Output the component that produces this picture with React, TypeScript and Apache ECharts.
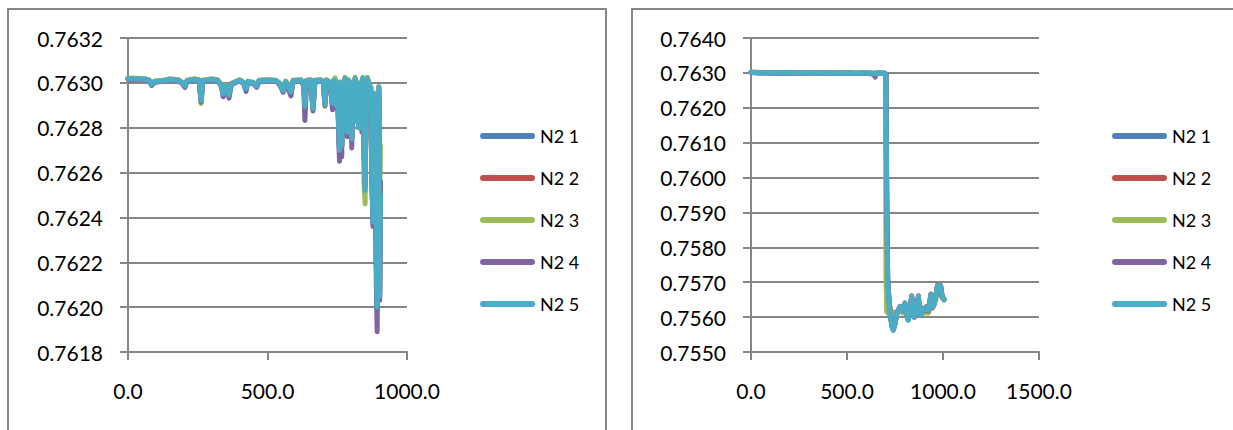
import React, { useEffect, useRef } from "react";
import * as echarts from "echarts";

const seriesNames = ["N2 1", "N2 2", "N2 3", "N2 4", "N2 5"];
const seriesColors = ["#4F81BD", "#C0504D", "#9BBB59", "#8064A2", "#4BACC6"];

// ---------- Left chart ----------
const leftXTicks = { min: 0, max: 1000, interval: 500 };
const leftYTicks = { min: 0.7618, max: 0.7632, interval: 0.0002 };

const leftX = [
  0, 30, 60, 75, 85, 95, 120, 150, 180, 195,
  204, 212, 240, 255, 262, 268, 300, 320, 335, 341,
  350, 362, 370, 400, 415, 423, 430, 450, 461, 470,
  500, 530, 545, 556, 565, 584, 592, 620, 630, 634,
  640, 655, 663, 670, 690, 700, 706, 712, 725, 733,
  738, 742, 746, 750, 754, 758, 762, 766, 770, 774,
  778, 782, 786, 790, 794, 798, 802, 806, 810, 814,
  818, 822, 826, 830, 834, 838, 842, 846, 850, 854,
  858, 862, 866, 870, 874, 878, 882, 886, 890, 893,
  896, 899, 902, 905,
];

const leftN21 = [
  0.763017, 0.763017, 0.763015, 0.763011, 0.76299, 0.763004, 0.763007, 0.763014, 0.763011, 0.762998,
  0.762983, 0.763009, 0.763014, 0.763011, 0.762918, 0.763009, 0.763014, 0.763011, 0.762988, 0.762948,
  0.762983, 0.762942, 0.762993, 0.763011, 0.762998, 0.762972, 0.763004, 0.762998, 0.762983, 0.763009,
  0.763011, 0.763009, 0.762993, 0.762962, 0.763004, 0.762956, 0.763009, 0.763011, 0.762988, 0.76289,
  0.763009, 0.763011, 0.762882, 0.763009, 0.763011, 0.763004, 0.762902, 0.763011, 0.762998, 0.762905,
  0.763009, 0.763008, 0.762895, 0.762998, 0.762845, 0.762695, 0.762998, 0.762715, 0.762978, 0.762875,
  0.763018, 0.762895, 0.762775, 0.763008, 0.762815, 0.762998, 0.762745, 0.762978, 0.762895, 0.763018,
  0.762845, 0.762988, 0.762815, 0.762948, 0.762998, 0.762795, 0.763018, 0.76269, 0.762545, 0.762978,
  0.763018, 0.762998, 0.762895, 0.762978, 0.762595, 0.762375, 0.762948, 0.762795, 0.76219, 0.76199,
  0.76239, 0.762978, 0.762045, 0.76249,
];

const leftN22 = [
  0.763019, 0.763019, 0.763017, 0.763013, 0.762993, 0.763006, 0.763009, 0.763016, 0.763013, 0.763001,
  0.762986, 0.763011, 0.763016, 0.763013, 0.762922, 0.763011, 0.763016, 0.763013, 0.762991, 0.762952,
  0.762986, 0.762947, 0.762996, 0.763013, 0.763001, 0.762977, 0.763006, 0.763001, 0.762986, 0.763011,
  0.763013, 0.763011, 0.762996, 0.762967, 0.763006, 0.762962, 0.763011, 0.763013, 0.762991, 0.762898,
  0.763011, 0.763013, 0.762888, 0.763011, 0.763013, 0.763006, 0.762908, 0.763013, 0.763001, 0.762912,
  0.763011, 0.763011, 0.762902, 0.763001, 0.762852, 0.762705, 0.763001, 0.762722, 0.762981, 0.762882,
  0.763021, 0.762902, 0.762782, 0.763011, 0.762822, 0.763001, 0.762752, 0.762981, 0.762902, 0.763021,
  0.762852, 0.762991, 0.762822, 0.762951, 0.763001, 0.762802, 0.763021, 0.762705, 0.762555, 0.762981,
  0.763021, 0.763001, 0.762902, 0.762981, 0.762602, 0.762385, 0.762951, 0.762802, 0.762205, 0.76201,
  0.762405, 0.762981, 0.762055, 0.762505,
];

const leftN23 = [
  0.763022, 0.76302, 0.763018, 0.763014, 0.762995, 0.763008, 0.76301, 0.763018, 0.763014, 0.763002,
  0.762988, 0.763012, 0.763018, 0.763014, 0.762908, 0.763012, 0.763018, 0.763014, 0.762992, 0.762955,
  0.762988, 0.76295, 0.762998, 0.763014, 0.763002, 0.76298, 0.763008, 0.763002, 0.762988, 0.763012,
  0.763014, 0.763012, 0.762998, 0.76297, 0.763008, 0.762965, 0.763012, 0.763014, 0.762992, 0.7629,
  0.763012, 0.763014, 0.76289, 0.763012, 0.763014, 0.763008, 0.762895, 0.763014, 0.763002, 0.762898,
  0.763014, 0.763022, 0.762905, 0.763005, 0.762855, 0.76271, 0.763005, 0.76273, 0.762985, 0.762885,
  0.763025, 0.762905, 0.76279, 0.763015, 0.76283, 0.763005, 0.76276, 0.762985, 0.762905, 0.763025,
  0.76286, 0.762995, 0.76283, 0.762955, 0.763005, 0.76281, 0.763025, 0.76255, 0.76246, 0.762985,
  0.763025, 0.763005, 0.762905, 0.762985, 0.76261, 0.76239, 0.762955, 0.762805, 0.76222, 0.76203,
  0.76242, 0.762985, 0.76246, 0.76272,
];

const leftN24 = [
  0.763015, 0.763016, 0.763014, 0.76301, 0.762988, 0.763003, 0.763006, 0.763013, 0.76301, 0.762996,
  0.76298, 0.763008, 0.763013, 0.76301, 0.762915, 0.763008, 0.763013, 0.76301, 0.762985, 0.762938,
  0.762982, 0.762932, 0.762992, 0.76301, 0.762996, 0.762962, 0.763002, 0.762996, 0.76298, 0.763008,
  0.76301, 0.763008, 0.76299, 0.762958, 0.763002, 0.762942, 0.763008, 0.76301, 0.762985, 0.762832,
  0.763008, 0.76301, 0.762875, 0.763008, 0.76301, 0.763, 0.7629, 0.76301, 0.762995, 0.76288,
  0.763008, 0.763005, 0.76289, 0.762995, 0.76282, 0.76265, 0.762995, 0.76267, 0.762975, 0.76286,
  0.763015, 0.76288, 0.76276, 0.763005, 0.7628, 0.76299, 0.76271, 0.762975, 0.76288, 0.763015,
  0.76283, 0.762985, 0.7628, 0.76294, 0.762995, 0.76278, 0.763015, 0.76268, 0.76254, 0.762975,
  0.763015, 0.762995, 0.76288, 0.76297, 0.76258, 0.76236, 0.76294, 0.76278, 0.7621, 0.76189,
  0.7623, 0.76296, 0.76203, 0.76256,
];

const leftN25 = [
  0.763018, 0.763018, 0.763016, 0.763012, 0.762992, 0.763005, 0.763008, 0.763015, 0.763012, 0.763,
  0.762985, 0.76301, 0.763015, 0.763012, 0.76292, 0.76301, 0.763015, 0.763012, 0.76299, 0.76295,
  0.762985, 0.762945, 0.762995, 0.763012, 0.763, 0.762975, 0.763005, 0.763, 0.762985, 0.76301,
  0.763012, 0.76301, 0.762995, 0.762965, 0.763005, 0.76296, 0.76301, 0.763012, 0.76299, 0.762895,
  0.76301, 0.763012, 0.762885, 0.76301, 0.763012, 0.763005, 0.762905, 0.763012, 0.763, 0.76291,
  0.76301, 0.76301, 0.7629, 0.763, 0.76285, 0.7627, 0.763, 0.76272, 0.76298, 0.76282,
  0.76302, 0.76284, 0.76278, 0.76301, 0.76281, 0.763, 0.76275, 0.76298, 0.76283, 0.76302,
  0.76283, 0.76299, 0.7628, 0.76295, 0.763, 0.7628, 0.76302, 0.7627, 0.76252, 0.76298,
  0.76302, 0.763, 0.7629, 0.76298, 0.7626, 0.76238, 0.76295, 0.7628, 0.7622, 0.762,
  0.7624, 0.76298, 0.76205, 0.7625,
];

// ---------- Right chart ----------
const rightXTicks = { min: 0, max: 1500, interval: 500 };
const rightYTicks = { min: 0.755, max: 0.764, interval: 0.001 };

const rightX = [
  0, 50, 100, 150, 200, 250, 300, 350, 400, 450,
  500, 550, 600, 640, 646, 652, 660, 690, 700, 703,
  707, 712, 718, 726, 734, 741, 750, 760, 776, 790,
  802, 810, 819, 828, 837, 845, 851, 862, 872, 878,
  884, 895, 905, 915, 925, 937, 945, 954, 962, 971,
  980, 988, 995, 1005,
];

const rightN21 = [
  0.76301, 0.763, 0.76301, 0.763, 0.763, 0.76299, 0.763, 0.763, 0.763, 0.76299,
  0.763, 0.76299, 0.76299, 0.76299, 0.76298, 0.76298, 0.763, 0.76299, 0.76298, 0.76294,
  0.7593, 0.75705, 0.75655, 0.75608, 0.75574, 0.75564, 0.75582, 0.75611, 0.75629, 0.75619,
  0.75638, 0.75611, 0.75593, 0.75619, 0.75658, 0.75614, 0.75601, 0.75619, 0.75658, 0.75614,
  0.75606, 0.75624, 0.75619, 0.75629, 0.75619, 0.75663, 0.75629, 0.75639, 0.75658, 0.75688,
  0.75674, 0.75688, 0.75659, 0.75651,
];

const rightN22 = [
  0.76302, 0.76301, 0.763, 0.763, 0.76301, 0.763, 0.76301, 0.76299, 0.763, 0.763,
  0.76299, 0.76299, 0.763, 0.76298, 0.76298, 0.76299, 0.76299, 0.763, 0.76298, 0.76295,
  0.7591, 0.75702, 0.75658, 0.75612, 0.75576, 0.75563, 0.75581, 0.75609, 0.75631, 0.75621,
  0.75641, 0.75609, 0.75592, 0.75621, 0.75661, 0.75616, 0.75599, 0.75621, 0.75661, 0.75616,
  0.75604, 0.75626, 0.75621, 0.75631, 0.75621, 0.75666, 0.75631, 0.75641, 0.75661, 0.75691,
  0.75676, 0.75691, 0.75661, 0.75649,
];

const rightN23 = [
  0.76302, 0.76301, 0.76301, 0.763, 0.76301, 0.763, 0.76301, 0.763, 0.763, 0.763,
  0.763, 0.76299, 0.763, 0.76299, 0.76299, 0.76299, 0.763, 0.76299, 0.76298, 0.7572,
  0.75615, 0.75612, 0.7561, 0.75615, 0.7561, 0.75612, 0.75615, 0.75612, 0.7562, 0.75612,
  0.7563, 0.7561, 0.7561, 0.75612, 0.7564, 0.7561, 0.7561, 0.75612, 0.7564, 0.75612,
  0.7561, 0.75612, 0.75612, 0.75612, 0.75612, 0.7565, 0.75625, 0.75635, 0.7565, 0.75675,
  0.75668, 0.7568, 0.75655, 0.7565,
];

const rightN24 = [
  0.76301, 0.763, 0.763, 0.76299, 0.763, 0.76299, 0.763, 0.763, 0.76299, 0.76299,
  0.763, 0.76298, 0.76299, 0.76296, 0.76288, 0.76297, 0.76299, 0.76299, 0.76298, 0.76294,
  0.7592, 0.7571, 0.75655, 0.75605, 0.75572, 0.75565, 0.75585, 0.75612, 0.75628, 0.75618,
  0.75635, 0.75612, 0.75595, 0.75618, 0.75655, 0.75612, 0.75602, 0.75618, 0.75655, 0.75612,
  0.75608, 0.75622, 0.75618, 0.75628, 0.75618, 0.7566, 0.75628, 0.75638, 0.75655, 0.75685,
  0.75672, 0.75685, 0.75658, 0.75652,
];

const rightN25 = [
  0.76302, 0.763, 0.76301, 0.763, 0.76301, 0.76299, 0.76301, 0.763, 0.763, 0.76299,
  0.763, 0.76299, 0.763, 0.76299, 0.76298, 0.76299, 0.763, 0.76299, 0.76298, 0.7629,
  0.7595, 0.757, 0.7565, 0.756, 0.75575, 0.75562, 0.7558, 0.7561, 0.7563, 0.7562,
  0.7564, 0.7561, 0.75591, 0.7562, 0.7566, 0.75615, 0.756, 0.7562, 0.7566, 0.75615,
  0.75605, 0.75625, 0.7562, 0.7563, 0.7562, 0.75665, 0.7563, 0.7564, 0.7566, 0.7569,
  0.75675, 0.7569, 0.7566, 0.7565,
];

const leftSeriesY = [leftN21, leftN22, leftN23, leftN24, leftN25];
const rightSeriesY = [rightN21, rightN22, rightN23, rightN24, rightN25];

const GRAY = "#868686";
const FONT = "Lato";

function pairs(xs: number[], ys: number[]) {
  return xs.map((x, i) => [x, ys[i]]);
}

function xAxisCfg(gridIndex: number, t: { min: number; max: number; interval: number }) {
  return {
    type: "value",
    gridIndex,
    min: t.min,
    max: t.max,
    interval: t.interval,
    axisLine: { show: true, onZero: false, lineStyle: { color: GRAY, width: 2 } },
    axisTick: { show: true, inside: false, length: 8, lineStyle: { color: GRAY, width: 2 } },
    splitLine: { show: false },
    axisLabel: {
      formatter: (v: number) => v.toFixed(1),
      fontSize: 21,
      fontFamily: FONT,
      color: "#000",
      margin: 28,
    },
  };
}

function yAxisCfg(gridIndex: number, t: { min: number; max: number; interval: number }) {
  return {
    type: "value",
    gridIndex,
    min: t.min,
    max: t.max,
    interval: t.interval,
    axisLine: { show: true, onZero: false, lineStyle: { color: GRAY, width: 2 } },
    axisTick: { show: true, inside: false, length: 8, lineStyle: { color: GRAY, width: 2 } },
    splitLine: { show: true, lineStyle: { color: GRAY, width: 2 } },
    axisLabel: {
      formatter: (v: number) => v.toFixed(4),
      fontSize: 21,
      fontFamily: FONT,
      color: "#000",
      margin: 25,
    },
  };
}

const legendIcon = "path://M3 0H52A3 3 0 0 1 52 6H3A3 3 0 0 1 3 0Z";

function legendCfg(left: number) {
  return {
    show: true,
    orient: "vertical",
    left,
    top: 127,
    padding: 0,
    itemWidth: 55,
    itemHeight: 6,
    itemGap: 24,
    icon: legendIcon,
    itemStyle: { borderWidth: 0 },
    data: seriesNames,
    formatter: "{t|{name}}",
    textStyle: {
      fontSize: 18,
      fontFamily: FONT,
      color: "#000",
      rich: { t: { fontSize: 18, fontFamily: FONT, color: "#000", lineHeight: 20 } },
    },
    selectedMode: false,
  };
}

export default function App() {
  const ref = useRef<HTMLDivElement>(null);
  useEffect(() => {
    if (!ref.current) return;
    const chart = echarts.init(ref.current, null, { renderer: "svg" });
    const series: any[] = [];
    seriesNames.forEach((name, i) => {
      series.push({
        name,
        type: "line",
        xAxisIndex: 0,
        yAxisIndex: 0,
        data: pairs(leftX, leftSeriesY[i]),
        showSymbol: false,
        symbol: "none",
        color: seriesColors[i],
        lineStyle: { width: 5, color: seriesColors[i], cap: "round", join: "round" },
        z: 2 + i,
      });
    });
    seriesNames.forEach((name, i) => {
      series.push({
        name,
        type: "line",
        xAxisIndex: 1,
        yAxisIndex: 1,
        data: pairs(rightX, rightSeriesY[i]),
        showSymbol: false,
        symbol: "none",
        color: seriesColors[i],
        lineStyle: { width: 5, color: seriesColors[i], cap: "round", join: "round" },
        z: 2 + i,
      });
    });
    chart.setOption({
      animation: false,
      backgroundColor: "#fff",
      grid: [
        { left: 128, top: 38, width: 279, height: 314, containLabel: false },
        { left: 751, top: 38, width: 288, height: 314, containLabel: false },
      ],
      xAxis: [xAxisCfg(0, leftXTicks), xAxisCfg(1, rightXTicks)],
      yAxis: [yAxisCfg(0, leftYTicks), yAxisCfg(1, rightYTicks)],
      legend: [legendCfg(480), legendCfg(1112)],
      graphic: [
        {
          type: "rect",
          shape: { x: 8, y: 9, width: 598, height: 500 },
          style: { fill: "none", stroke: GRAY, lineWidth: 2 },
          silent: true,
        },
        {
          type: "rect",
          shape: { x: 632, y: 9, width: 700, height: 500 },
          style: { fill: "none", stroke: GRAY, lineWidth: 2 },
          silent: true,
        },
      ],
      series,
    });
    return () => chart.dispose();
  }, []);
  return (
    <div
      ref={ref}
      style={{ position: "absolute", left: 0, top: 0, width: 1233, height: 430 }}
    />
  );
}
